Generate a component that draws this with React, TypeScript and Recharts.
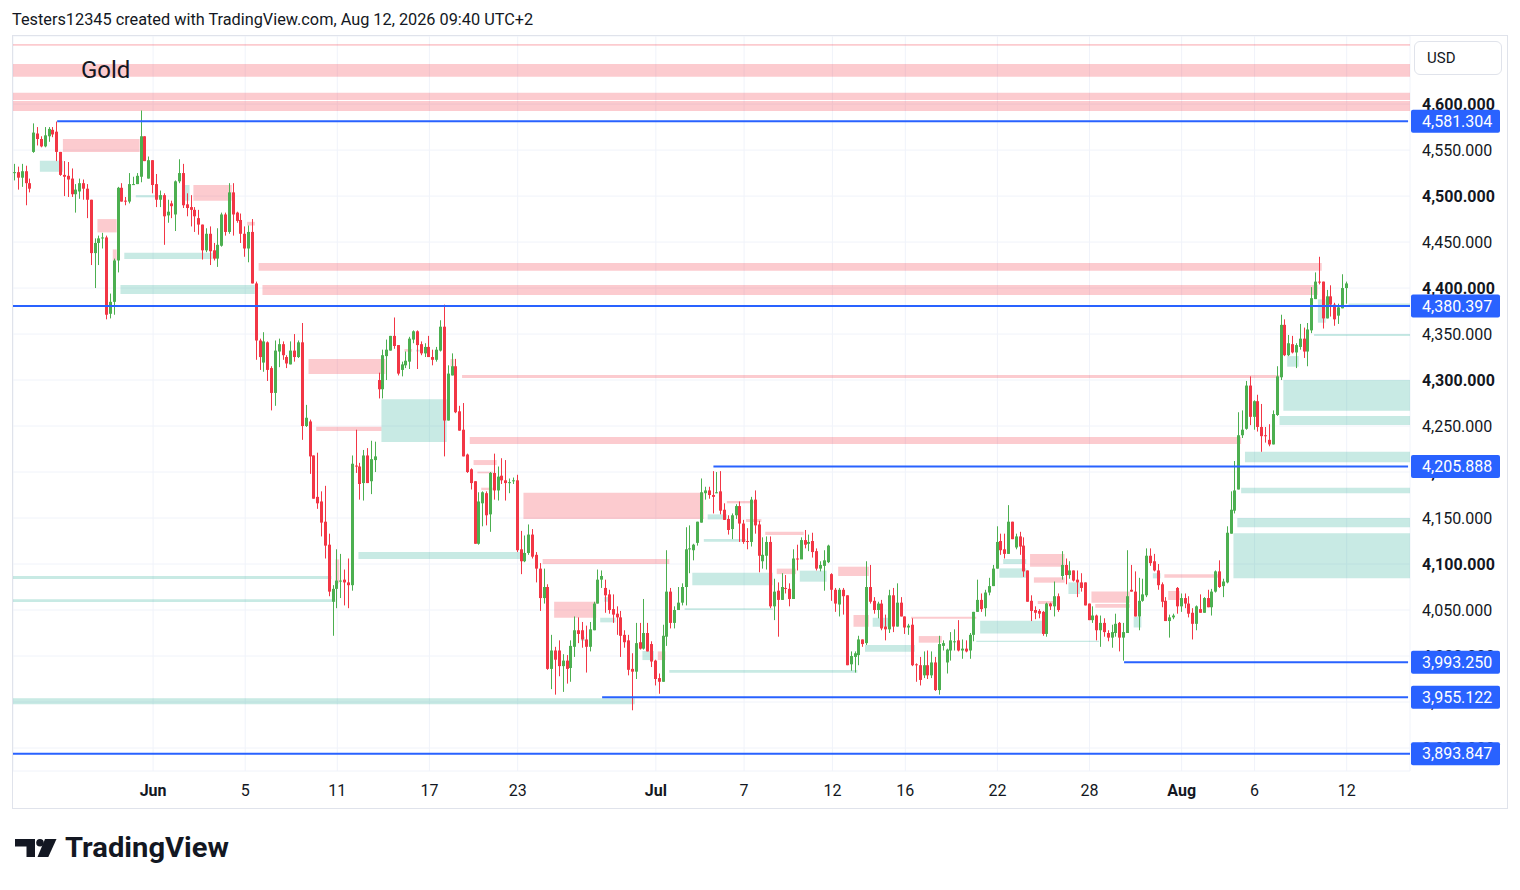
import React from 'react';
import {
  ComposedChart,
  Bar,
  XAxis,
  YAxis,
  CartesianGrid,
  ReferenceArea,
  ReferenceLine,
} from 'recharts';

// open, high, low, close
type Candle = [number, number, number, number];
// from slot, to slot (null = chart edge), top price, bottom price
type Zone = [number | null, number | null, number, number];

const candlesMayJun: Candle[] = [
  [4525, 4535, 4517, 4526], [4526, 4532, 4507, 4520], [4520, 4535, 4510, 4527], [4527, 4533, 4490, 4514],
  [4514, 4519, 4504, 4508], [4548, 4579, 4547, 4569], [4568, 4575, 4555, 4562], [4562, 4565, 4553, 4554],
  [4554, 4575, 4553, 4566], [4565, 4575, 4559, 4573], [4572, 4575, 4564, 4567], [4570, 4581, 4538, 4548],
  [4548, 4548, 4522, 4523], [4523, 4538, 4500, 4521], [4522, 4537, 4499, 4518], [4519, 4530, 4499, 4502],
  [4502, 4513, 4482, 4507], [4505, 4519, 4497, 4514], [4514, 4518, 4496, 4508], [4508, 4513, 4476, 4496],
  [4496, 4496, 4425, 4438], [4438, 4454, 4400, 4449], [4449, 4457, 4425, 4454], [4454, 4460, 4443, 4455],
  [4455, 4457, 4366, 4371], [4372, 4394, 4367, 4385], [4385, 4432, 4371, 4430], [4430, 4510, 4417, 4509],
  [4509, 4514, 4494, 4494], [4495, 4499, 4490, 4494], [4494, 4525, 4492, 4513], [4512, 4521, 4512, 4513],
  [4513, 4525, 4513, 4522], [4521, 4593, 4515, 4565], [4565, 4565, 4538, 4538], [4519, 4543, 4519, 4539],
  [4539, 4539, 4503, 4512], [4513, 4524, 4488, 4496], [4496, 4506, 4488, 4501], [4501, 4503, 4447, 4478],
  [4479, 4496, 4471, 4483], [4492, 4495, 4476, 4489], [4480, 4517, 4462, 4516], [4516, 4540, 4514, 4525],
  [4525, 4535, 4487, 4490], [4491, 4503, 4478, 4487], [4488, 4501, 4467, 4485], [4485, 4488, 4461, 4478],
  [4476, 4485, 4458, 4469], [4469, 4469, 4431, 4441], [4441, 4465, 4439, 4459], [4459, 4467, 4425, 4440],
  [4441, 4449, 4430, 4432], [4432, 4465, 4423, 4447], [4446, 4482, 4445, 4480], [4480, 4482, 4457, 4461],
  [4461, 4514, 4459, 4504], [4504, 4514, 4457, 4480], [4482, 4483, 4471, 4473], [4474, 4481, 4449, 4459],
  [4459, 4467, 4434, 4443], [4443, 4468, 4428, 4461], [4461, 4475, 4405, 4405], [4405, 4407, 4322, 4343],
];

const candlesJun: Candle[] = [
  [4343, 4345, 4311, 4325], [4319, 4352, 4309, 4342], [4341, 4342, 4299, 4311], [4313, 4315, 4267, 4286],
  [4286, 4343, 4272, 4332], [4331, 4345, 4314, 4339], [4339, 4342, 4322, 4327], [4325, 4327, 4313, 4318],
  [4317, 4342, 4317, 4332], [4332, 4350, 4320, 4325], [4325, 4343, 4324, 4341], [4341, 4362, 4235, 4250],
  [4250, 4273, 4249, 4259], [4255, 4257, 4198, 4217], [4218, 4218, 4171, 4171], [4173, 4221, 4160, 4166],
  [4168, 4179, 4130, 4145], [4146, 4185, 4106, 4120], [4121, 4133, 4065, 4070], [4059, 4077, 4022, 4073],
  [4073, 4116, 4052, 4082], [4081, 4111, 4063, 4082], [4083, 4094, 4055, 4080], [4080, 4106, 4052, 4077],
  [4077, 4218, 4071, 4209], [4207, 4246, 4199, 4206], [4206, 4210, 4170, 4187], [4188, 4224, 4169, 4218],
  [4218, 4226, 4188, 4188], [4190, 4234, 4176, 4214], [4213, 4233, 4200, 4217], [4300, 4308, 4280, 4290],
  [4290, 4333, 4280, 4327], [4326, 4344, 4300, 4333], [4332, 4348, 4332, 4348], [4348, 4368, 4334, 4337],
  [4338, 4338, 4305, 4307], [4311, 4320, 4304, 4317], [4316, 4331, 4313, 4321], [4320, 4347, 4312, 4345],
  [4344, 4354, 4340, 4353], [4353, 4354, 4312, 4338], [4339, 4342, 4327, 4329], [4329, 4340, 4325, 4336],
  [4336, 4348, 4325, 4325], [4325, 4333, 4316, 4322], [4322, 4336, 4320, 4333], [4332, 4365, 4331, 4358],
  [4358, 4382, 4217, 4256], [4256, 4316, 4256, 4307], [4305, 4329, 4305, 4315], [4315, 4323, 4264, 4265],
  [4266, 4272, 4245, 4245], [4246, 4275, 4217, 4217], [4219, 4220, 4199, 4200], [4203, 4204, 4181, 4188],
  [4190, 4190, 4122, 4122], [4122, 4178, 4121, 4168], [4166, 4179, 4141, 4178], [4177, 4179, 4142, 4153],
  [4154, 4200, 4135, 4199], [4199, 4220, 4170, 4180], [4180, 4206, 4169, 4195], [4196, 4215, 4187, 4191],
  [4191, 4213, 4169, 4188], [4188, 4193, 4177, 4189], [4190, 4194, 4187, 4191], [4191, 4197, 4113, 4115],
];

const candlesJunJul: Candle[] = [
  [4116, 4136, 4089, 4103], [4103, 4131, 4102, 4112], [4112, 4143, 4110, 4132], [4132, 4138, 4106, 4108],
  [4110, 4113, 4080, 4095], [4095, 4101, 4049, 4063], [4063, 4095, 4057, 4075], [4075, 4078, 3985, 3986],
  [3986, 4023, 3964, 4006], [4006, 4010, 3958, 3996], [4006, 4017, 3978, 3989], [3989, 4002, 3961, 3995],
  [3995, 4001, 3970, 3986], [3987, 4017, 3972, 4011], [4010, 4043, 3999, 4028], [4028, 4042, 4014, 4024],
  [4028, 4037, 4009, 4018], [4018, 4033, 3982, 4010], [4010, 4037, 4005, 4029], [4028, 4059, 4028, 4057],
  [4057, 4094, 4057, 4083], [4083, 4093, 4074, 4087], [4074, 4083, 4047, 4066], [4067, 4072, 4046, 4050],
  [4051, 4067, 4036, 4045], [4046, 4054, 4023, 4042], [4042, 4049, 3999, 4022], [4023, 4028, 4009, 4015],
  [4017, 4023, 3979, 3985], [3986, 4003, 3941, 3983], [3983, 4036, 3975, 4014], [4015, 4036, 4007, 4008],
  [4008, 4062, 4007, 4025], [4025, 4036, 4005, 4005], [4013, 4016, 3988, 3994], [3995, 3996, 3968, 3975],
  [3976, 3981, 3959, 3972], [3972, 4034, 3972, 4022], [4021, 4115, 4011, 4070], [4070, 4074, 4030, 4036],
  [4036, 4054, 4030, 4050], [4050, 4075, 4050, 4058], [4058, 4079, 4055, 4075], [4075, 4140, 4055, 4116],
  [4116, 4142, 4090, 4117], [4115, 4122, 4104, 4121], [4123, 4146, 4120, 4146], [4145, 4193, 4145, 4178],
  [4177, 4184, 4170, 4180], [4180, 4184, 4171, 4175], [4175, 4201, 4155, 4173], [4178, 4200, 4177, 4178],
  [4179, 4201, 4154, 4158], [4159, 4166, 4148, 4148], [4149, 4153, 4132, 4137], [4138, 4155, 4127, 4153],
  [4153, 4165, 4149, 4163], [4163, 4168, 4124, 4144], [4144, 4148, 4122, 4124], [4125, 4139, 4116, 4124],
  [4124, 4173, 4119, 4170], [4170, 4180, 4133, 4142],
];

const candlesJul: Candle[] = [
  [4143, 4147, 4091, 4109], [4103, 4129, 4095, 4110], [4109, 4130, 4094, 4124], [4124, 4130, 4052, 4054],
  [4054, 4084, 4039, 4070], [4071, 4080, 4021, 4061], [4061, 4090, 4061, 4075], [4074, 4088, 4068, 4073],
  [4073, 4079, 4054, 4062], [4062, 4116, 4062, 4106], [4106, 4121, 4093, 4105], [4105, 4129, 4106, 4126],
  [4126, 4137, 4117, 4121], [4122, 4132, 4114, 4124], [4125, 4134, 4107, 4113], [4114, 4117, 4093, 4095],
  [4095, 4103, 4092, 4099], [4098, 4115, 4071, 4104], [4102, 4121, 4101, 4120], [4089, 4090, 4060, 4072],
  [4072, 4074, 4048, 4057], [4056, 4074, 4043, 4072], [4072, 4074, 4045, 4065], [4066, 4066, 3990, 3990],
  [3991, 4005, 3984, 4000], [3999, 4005, 3982, 4003], [4001, 4022, 3990, 4018], [4018, 4018, 4010, 4013],
  [4014, 4103, 4012, 4075], [4075, 4099, 4057, 4059], [4060, 4064, 4046, 4050], [4050, 4059, 4041, 4057],
  [4057, 4061, 4028, 4030], [4032, 4045, 4017, 4029], [4029, 4072, 4025, 4066], [4066, 4074, 4026, 4032],
  [4032, 4079, 4032, 4058], [4058, 4064, 4043, 4043], [4043, 4043, 4024, 4031], [4031, 4035, 4023, 4033],
  [4034, 4041, 3989, 3990], [3991, 3992, 3972, 3990], [3990, 3999, 3968, 3974], [3979, 4005, 3976, 3990],
  [3990, 4006, 3975, 3979], [3979, 4005, 3976, 3993], [3993, 3999, 3962, 3963], [3963, 4022, 3958, 4013],
  [4011, 4017, 4006, 4014], [3993, 4008, 3981, 4007], [4006, 4026, 3995, 4017], [4016, 4029, 4006, 4016],
  [4017, 4039, 4005, 4006], [4006, 4018, 3997, 4008], [4008, 4017, 4004, 4005], [4006, 4025, 3997, 4023],
  [4023, 4048, 4016, 4048], [4048, 4083, 4048, 4061], [4061, 4068, 4048, 4051], [4052, 4072, 4043, 4069],
  [4069, 4085, 4066, 4076], [4076, 4099, 4076, 4095], [4095, 4141, 4095, 4124],
];

const candlesJulAug: Candle[] = [
  [4125, 4133, 4110, 4115], [4116, 4133, 4106, 4111], [4111, 4164, 4111, 4146], [4146, 4146, 4127, 4127],
  [4118, 4133, 4116, 4130], [4130, 4135, 4110, 4119], [4120, 4129, 4086, 4092], [4093, 4093, 4059, 4059],
  [4060, 4066, 4038, 4049], [4050, 4054, 4040, 4047], [4049, 4051, 4041, 4046], [4048, 4049, 4022, 4024],
  [4024, 4058, 4021, 4057], [4057, 4058, 4050, 4054], [4054, 4081, 4043, 4065], [4065, 4068, 4048, 4050],
  [4087, 4114, 4083, 4099], [4099, 4106, 4078, 4088], [4088, 4103, 4084, 4093], [4093, 4093, 4081, 4082],
  [4083, 4093, 4064, 4080], [4080, 4090, 4070, 4074], [4080, 4080, 4055, 4055], [4057, 4057, 4039, 4039],
  [4039, 4054, 4036, 4044], [4044, 4045, 4017, 4028], [4028, 4044, 4010, 4036], [4036, 4041, 4021, 4026],
  [4025, 4028, 4016, 4020], [4020, 4034, 4009, 4026], [4025, 4046, 4021, 4035], [4036, 4037, 4005, 4020],
  [4020, 4036, 3995, 4026], [4025, 4115, 4025, 4065], [4072, 4099, 4070, 4070], [4070, 4092, 4043, 4043],
  [4043, 4085, 4028, 4060], [4060, 4084, 4059, 4067], [4066, 4117, 4064, 4109], [4109, 4117, 4098, 4101],
  [4103, 4111, 4092, 4093], [4093, 4100, 4072, 4077], [4078, 4080, 4053, 4059], [4060, 4064, 4038, 4038],
  [4038, 4045, 4020, 4042], [4042, 4046, 4040, 4044], [4074, 4075, 4046, 4054], [4054, 4068, 4048, 4063],
  [4063, 4068, 4052, 4057], [4057, 4065, 4042, 4046], [4047, 4052, 4018, 4035], [4035, 4055, 4028, 4054],
  [4051, 4067, 4047, 4047], [4047, 4064, 4047, 4063], [4063, 4072, 4053, 4053], [4053, 4073, 4044, 4070],
  [4070, 4093, 4069, 4092], [4092, 4104, 4074, 4075], [4076, 4084, 4064, 4081], [4080, 4141, 4079, 4134],
  [4133, 4179, 4133, 4159], [4158, 4212, 4155, 4180],
];

const candlesAug: Candle[] = [
  [4181, 4265, 4181, 4240], [4240, 4267, 4237, 4246], [4247, 4299, 4246, 4294], [4294, 4304, 4251, 4260],
  [4260, 4278, 4246, 4277], [4277, 4284, 4244, 4249], [4249, 4274, 4222, 4239], [4240, 4249, 4232, 4239],
  [4235, 4252, 4228, 4230], [4230, 4267, 4230, 4263], [4262, 4315, 4261, 4304], [4303, 4371, 4300, 4360],
  [4360, 4366, 4326, 4327], [4327, 4349, 4326, 4340], [4339, 4348, 4329, 4330], [4330, 4340, 4313, 4338],
  [4336, 4361, 4333, 4345], [4345, 4357, 4324, 4331], [4331, 4362, 4315, 4355], [4354, 4401, 4351, 4389],
  [4388, 4417, 4388, 4407], [4407, 4434, 4404, 4406], [4407, 4407, 4356, 4367], [4367, 4398, 4367, 4391],
  [4391, 4403, 4369, 4382], [4382, 4384, 4359, 4366], [4370, 4383, 4361, 4379], [4378, 4415, 4378, 4400],
  [4400, 4407, 4383, 4405],
];

const allCandles: Candle[] = [
  ...candlesMayJun,
  ...candlesJun,
  ...candlesJunJul,
  ...candlesJul,
  ...candlesJulAug,
  ...candlesAug,
];

// empty slots keep room on the right like the source chart
const SLOTS = 364;

const dateTickIdx = [36, 60, 84, 108, 131, 167, 190, 213, 232, 256, 280, 304, 323, 347];
const dateTickLabels = ['Jun', '5', '11', '17', '23', 'Jul', '7', '12', '16', '22', '28', 'Aug', '6', '12'];
const monthNames = ['Jun', 'Jul', 'Aug'];

const priceTicks = [
  3900, 3950, 4000, 4050, 4100, 4150, 4200, 4250, 4300, 4350, 4400, 4450, 4500, 4550, 4600,
];

const levelPrices = [4581.304, 4380.397, 4205.888, 3993.25, 3955.122, 3893.847];
const levelStart: (number | null)[] = [11, null, 182, 289, 153, null];

const supplyZones: Zone[] = [
  [null, null, 4665.2, 4663.4],
  [null, null, 4643.5, 4629.7],
  [null, null, 4612.3, 4604.3],
  [null, null, 4603.3, 4592.4],
  [13, 32, 4562, 4548],
  [47, 56, 4512, 4495],
  [61, 62, 4472, 4468],
  [22, 26, 4475, 4460.5],
  [26, 26, 4442, 4430],
  [64, 340, 4427.2, 4418.8],
  [65, 339, 4403.3, 4392.4],
  [77, 96, 4322.8, 4306.5],
  [79, 95, 4249.3, 4244.6],
  [102, 103, 4333.7, 4330.8],
  [114, 114, 4322.8, 4314.5],
  [117, 329, 4305.4, 4302.2],
  [119, 319, 4238, 4230.4],
  [120, 125, 4213, 4207.6],
  [121, 124, 4200.4, 4198.6],
  [122, 124, 4183, 4180.4],
  [84, 84, 4105, 4079],
  [133, 179, 4177.5, 4148.9],
  [138, 170, 4105.4, 4100],
  [141, 151, 4059, 4041.6],
  [168, 169, 4005, 3995.6],
  [186, 192, 4168.5, 4166],
  [191, 194, 4148.9, 4145.7],
  [196, 205, 4135, 4131.6],
  [199, 203, 4095, 4089],
  [215, 222, 4097.1, 4087],
  [219, 222, 4044.6, 4031.8],
  [234, 250, 4042.7, 4040.6],
  [236, 241, 4021.7, 4014.5],
  [265, 273, 4110.9, 4097],
  [266, 273, 4085.5, 4079.7],
  [267, 270, 4059.8, 4056.5],
  [281, 290, 4070, 4058],
  [282, 290, 4056.5, 4052.5],
  [300, 313, 4089, 4085],
  [301, 303, 4070.7, 4060.9],
];

const demandZones: Zone[] = [
  [7, 12, 4538.4, 4526.4],
  [44, 45, 4512, 4495],
  [32, 38, 4501, 4498.6],
  [29, 51, 4438.4, 4431.5],
  [28, 62, 4403.3, 4393.5],
  [96, 112, 4279, 4232.6],
  [105, 105, 4333, 4331],
  [null, 82, 4087, 4083.7],
  [null, 83, 4061.6, 4058.7],
  [90, 132, 4113, 4105.4],
  [154, 154, 4064, 4059],
  [153, 156, 4041.6, 4036.6],
  [148, 148, 4021, 4016.3],
  [164, 166, 4005.4, 3995.6],
  [171, 219, 3984.8, 3981.8],
  [null, 161, 3954, 3947.5],
  [177, 197, 4090.6, 4077],
  [175, 197, 4051.8, 4050],
  [181, 185, 4154, 4148.5],
  [180, 190, 4127.2, 4124.2],
  [205, 211, 4092.8, 4080.8],
  [224, 227, 4041.6, 4031.8],
  [222, 234, 4011.9, 4004.7],
  [252, 268, 4038.4, 4024.6],
  [251, 282, 4016.6, 4015.2],
  [258, 263, 4105.4, 4100],
  [257, 263, 4095.3, 4085.1],
  [275, 277, 4080, 4067.4],
  [292, 293, 4042.7, 4031],
  [297, 298, 4090, 4084.4],
  [318, null, 4133.4, 4084.4],
  [319, null, 4150, 4140],
  [320, null, 4183, 4176.8],
  [321, null, 4222.1, 4210.5],
  [330, null, 4260.9, 4251],
  [331, null, 4300, 4266.7],
  [332, 334, 4326, 4314.5],
  [339, null, 4350, 4347.8],
  [340, 341, 4387.7, 4362.3],
  [348, null, 4383.3, 4381.5],
];

const UP = '#4CAF50';
const DOWN = '#F23645';
const BLUE = '#2962FF';
const TEXT = '#131722';
const FONT = "Roboto, 'Noto Sans', 'DejaVu Sans', sans-serif";
const PRICE_DOMAIN = [3875, 4674];
const CHART_MARGIN = { top: 1, right: 0, bottom: 0, left: 1 };

const data = Array.from({ length: SLOTS }, (_, i) => {
  const k = allCandles[i];
  if (!k) return { i, range: null };
  return { i, o: k[0], h: k[1], l: k[2], c: k[3], range: [k[2], k[1]] };
});

const fmtPrice = (v: number) =>
  v.toLocaleString('en-US', { minimumFractionDigits: 3, maximumFractionDigits: 3 });

const CandleShape = (props: any) => {
  const { x, y, width, height, payload } = props;
  if (!payload || payload.o == null || x == null) return null;
  const { o, h, l, c } = payload;
  const top = Math.min(y, y + height);
  const span = Math.abs(height);
  const yOf = (p: number) => (h === l ? top : top + ((h - p) / (h - l)) * span);
  const color = c >= o ? UP : DOWN;
  const left = Math.round(x + width / 2 - 1.5);
  const bodyTop = yOf(Math.max(o, c));
  const bodyBottom = yOf(Math.min(o, c));
  return (
    <g>
      <line x1={left + 1.5} x2={left + 1.5} y1={top} y2={top + span} stroke={color} strokeWidth={1} />
      <rect x={left} y={bodyTop} width={3} height={Math.max(1, bodyBottom - bodyTop)} fill={color} />
    </g>
  );
};

const PriceTick = (props: any) => {
  const { x, y, payload } = props;
  const v = payload.value as number;
  return (
    <text x={x} y={y} dy={5.8} fill={TEXT} fontSize={16} fontFamily={FONT} fontWeight={v % 100 === 0 ? 700 : 400}>
      {fmtPrice(v)}
    </text>
  );
};

const DateTick = (props: any) => {
  const { x, y, payload } = props;
  const label = dateTickLabels[dateTickIdx.indexOf(payload.value)] ?? '';
  return (
    <text
      x={x}
      y={y}
      dy={25}
      textAnchor="middle"
      fill={TEXT}
      fontSize={16}
      fontFamily={FONT}
      fontWeight={monthNames.includes(label) ? 700 : 400}
    >
      {label}
    </text>
  );
};

const levelTag = (text: string) => (props: any) => {
  const vb = props.viewBox || {};
  const x = (vb.x ?? 0) + (vb.width ?? 0) + 1;
  const y = vb.y ?? 0;
  return (
    <g>
      <rect x={x} y={y - 11.5} width={89} height={23} rx={2} fill={BLUE} />
      <text x={x + 11} y={y + 5.8} fill="#FFFFFF" fontSize={16} fontFamily={FONT}>
        {text}
      </text>
    </g>
  );
};

const TvLogo = () => (
  <svg width={250} height={60} style={{ position: 'absolute', left: 0, top: 820 }}>
    <rect x={15} y={19} width={20} height={7.5} fill={TEXT} />
    <rect x={26.5} y={19} width={8.5} height={18} fill={TEXT} />
    <circle cx={40} cy={22.8} r={3.8} fill={TEXT} />
    <polygon points="45,19 56.5,19 48.3,37 37.5,37" fill={TEXT} />
    <text x={65} y={37} fill={TEXT} fontSize={27} fontWeight={700} fontFamily={FONT} textLength={164} lengthAdjust="spacingAndGlyphs">
      TradingView
    </text>
  </svg>
);

const App = () => {
  return (
    <div
      style={{
        position: 'fixed',
        left: 0,
        top: 0,
        width: 1520,
        height: 890,
        background: '#FFFFFF',
        fontFamily: FONT,
        color: TEXT,
        overflow: 'hidden',
      }}
    >
      <div style={{ position: 'absolute', left: 12, top: 11, fontSize: 16.3, lineHeight: '18px', whiteSpace: 'nowrap' }}>
        Testers12345 created with TradingView.com, Aug 12, 2026 09:40 UTC+2
      </div>

      <div style={{ position: 'absolute', left: 12, top: 35 }}>
        <ComposedChart width={1496} height={773} data={data} margin={CHART_MARGIN}>
          <CartesianGrid stroke="#F0F3FA" strokeWidth={1} />
          <XAxis
            dataKey="i"
            type="category"
            ticks={dateTickIdx}
            interval={0}
            tickLine={false}
            axisLine={false}
            tickSize={0}
            tickMargin={0}
            height={37}
            tick={<DateTick />}
          />
          <YAxis
            orientation="right"
            type="number"
            domain={PRICE_DOMAIN}
            allowDataOverflow
            ticks={priceTicks}
            interval={0}
            width={98}
            tickLine={false}
            axisLine={false}
            tickSize={0}
            tickMargin={12}
            tick={<PriceTick />}
          />
          {supplyZones.map((z, n) => (
            <ReferenceArea
              key={`s${n}`}
              x1={z[0] ?? undefined}
              x2={z[1] ?? undefined}
              y1={z[3]}
              y2={z[2]}
              fill={DOWN}
              fillOpacity={0.26}
              stroke="none"
              ifOverflow="visible"
            />
          ))}
          {demandZones.map((z, n) => (
            <ReferenceArea
              key={`d${n}`}
              x1={z[0] ?? undefined}
              x2={z[1] ?? undefined}
              y1={z[3]}
              y2={z[2]}
              fill="#22AB94"
              fillOpacity={0.25}
              stroke="none"
              ifOverflow="visible"
            />
          ))}
          <Bar dataKey="range" barSize={3} shape={<CandleShape />} isAnimationActive={false} />
          {levelPrices.map((p, n) =>
            levelStart[n] == null ? (
              <ReferenceLine key={`l${n}`} y={p} stroke={BLUE} strokeWidth={2} />
            ) : (
              <ReferenceLine
                key={`l${n}`}
                segment={[
                  { x: levelStart[n] as number, y: p },
                  { x: SLOTS - 1, y: p },
                ]}
                stroke={BLUE}
                strokeWidth={2}
              />
            ),
          )}
        </ComposedChart>
      </div>

      {/* second layer with the same scales, so the price tags sit above the axis labels */}
      <div style={{ position: 'absolute', left: 12, top: 35, pointerEvents: 'none' }}>
        <ComposedChart width={1496} height={773} data={data} margin={CHART_MARGIN}>
          <XAxis dataKey="i" type="category" tick={false} tickLine={false} axisLine={false} height={37} />
          <YAxis
            orientation="right"
            type="number"
            domain={PRICE_DOMAIN}
            allowDataOverflow
            width={98}
            tick={false}
            tickLine={false}
            axisLine={false}
          />
          <Bar dataKey="range" barSize={3} shape={() => null} isAnimationActive={false} />
          {levelPrices.map((p, n) => (
            <ReferenceLine key={`t${n}`} y={p} stroke="none" label={levelTag(fmtPrice(p))} />
          ))}
        </ComposedChart>
      </div>

      <div
        style={{
          position: 'absolute',
          left: 12,
          top: 35,
          width: 1496,
          height: 774,
          boxSizing: 'border-box',
          border: '1px solid #E0E3EB',
          pointerEvents: 'none',
        }}
      />

      <div style={{ position: 'absolute', left: 81, top: 58, fontSize: 24, lineHeight: '24px' }}>Gold</div>

      <div
        style={{
          position: 'absolute',
          left: 1414,
          top: 41,
          width: 88,
          height: 34,
          boxSizing: 'border-box',
          border: '1px solid #E0E3EB',
          borderRadius: 6,
          background: '#FFFFFF',
          fontSize: 15,
          lineHeight: '32px',
          paddingLeft: 12,
        }}
      >
        USD
      </div>

      <TvLogo />
    </div>
  );
};

export default App;
